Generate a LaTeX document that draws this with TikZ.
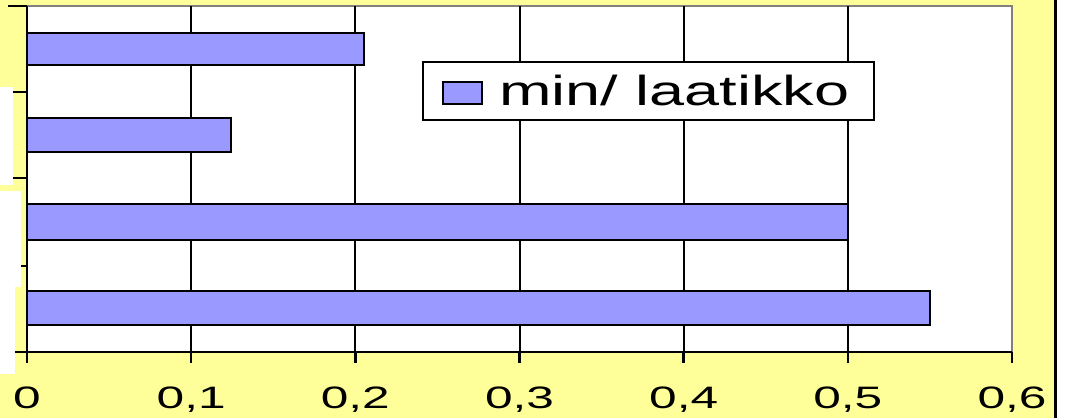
\documentclass[tikz,border=0pt]{standalone}
\usepackage{fontspec}
\setmainfont{Liberation Sans}
\definecolor{chartyellow}{RGB}{255,255,153}
\definecolor{barblue}{RGB}{153,153,255}
\definecolor{framegray}{RGB}{128,128,128}
\begin{document}
\begin{tikzpicture}[x=1pt,y=-1pt,line join=miter,
  bar/.style={draw=black,fill=barblue,line width=2pt},
  gridline/.style={black,line width=2pt},
  axis/.style={black,line width=2.5pt},
  ticklab/.style={anchor=base,xscale=1.6,font=\fontsize{31}{31}\selectfont,inner sep=0pt}]
\def \xo{27};
\def \xr{1012};
\def \yt{6};
\def \yb{352};
\def \u{1641.7};
\useasboundingbox (0,0) rectangle (1066,418);
% background
\fill[chartyellow] (0,0) rectangle (1054,418);
\fill[white] (1057,0) rectangle (1066,418);
\draw[line width=3.5pt] (1055.5,0) -- (1055.5,418);
\foreach \a/\b/\c/\d in {0/87/13/185,0/191/21/287,0/287/15/374}{\fill[white] (\a,\b) rectangle (\c,\d);}
\fill[white] (\xo,\yt) rectangle (\xr,\yb);
\draw[framegray,line width=2.5pt] (\xo,\yt) -- (\xr,\yt) -- (\xr,\yb);
% grid and bars
\foreach \i in {1,...,5}{\draw[gridline] (\xo+\i*\u/10,\yt) -- (\xo+\i*\u/10,\yb);}
\foreach \v/\a/\b in {0.205/33/65,0.124/118/152,0.5/204/240,0.55/291/325}{\draw[bar] (\xo,\a) rectangle (\xo+\v*\u,\b);}
% axes
\draw[axis] (\xo,\yt) -- (\xo,363);
\draw[axis] (15,\yb) -- (\xr,\yb);
\foreach \y/\s in {6/8,92/13,178/13,266/21}{\draw[axis] (\s,\y) -- (\xo,\y);}
\foreach \i in {0,...,6}{\draw[axis] (\xo+\i*\u/10,\yb) -- (\xo+\i*\u/10,363);
  \node[ticklab] (l\i) at (\xo+\i*\u/10,408) {\ifnum\i=0 0\else 0,\i\fi};}
% legend
\node[draw,fill=white,line width=2pt,minimum width=451pt,minimum height=58pt,inner sep=0pt,anchor=north west] (leg) at (422,61) {};
\node[draw,fill=barblue,line width=2pt,minimum width=39pt,minimum height=22pt,inner sep=0pt,anchor=north west] (sw) at (442,81) {};
\node[anchor=base west,xscale=1.5,font=\fontsize{42}{42}\selectfont,inner sep=0pt] (legtxt) at (499,105) {min/ laatikko};
\end{tikzpicture}
\end{document}
